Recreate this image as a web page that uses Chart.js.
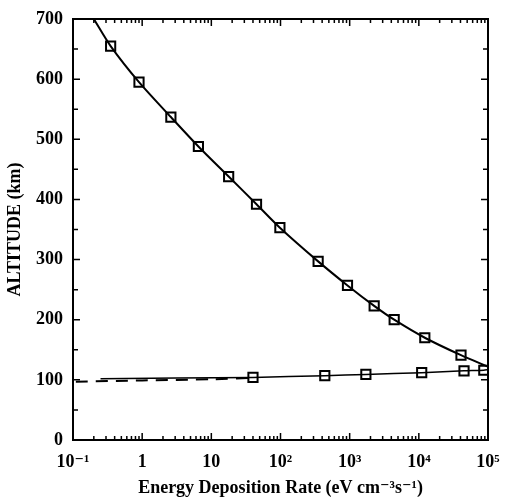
<!DOCTYPE html>
<html>
<head>
<meta charset="utf-8">
<script src="https://cdn.jsdelivr.net/npm/chart.js@4.4.1/dist/chart.umd.min.js"></script>
<style>
  html, body { margin: 0; padding: 0; background: #fff; }
  #wrap { width: 505px; height: 499px; }
</style>
</head>
<body>
<div id="wrap"><canvas id="chart" width="505" height="499"></canvas></div>
<script>
// Upper curve: marked points (rate in eV cm^-3 s^-1, altitude in km)
const upperRate = [0.2, 0.35, 0.9, 2.6, 6.5, 17.8, 45, 98, 350, 930, 2260, 4400, 12200, 40700, 100000];
const upperAlt  = [700, 655, 595, 537, 488, 438, 392, 353, 297, 257, 223, 200, 170, 141, 122];

// Lower curve (solid) with its markers
const lowerRate = [0.25, 40, 437, 1715, 11000, 45000, 87000, 100000];
const lowerAlt  = [102, 104, 107, 109, 112, 115, 116, 117];

// Dashed curve at low rates
const dashRate = [0.11, 1, 10, 35];
const dashAlt  = [97, 99, 101, 103];

// Axis ticks
const xTickValues = [0.1, 1, 10, 100, 1000, 10000, 100000];
const xTickLabels = ['10\u207B\u00B9', '1', '10', '10\u00B2', '10\u00B3', '10\u2074', '10\u2075'];
const yTickValues = [0, 100, 200, 300, 400, 500, 600, 700];

const FONT = '"Liberation Serif", "DejaVu Serif", serif';

function toPoints(xs, ys) {
    return xs.map((x, i) => ({ x: x, y: ys[i] }));
}

// marker only on the inner points, not on the line ends
function markerRadii(n, first, last) {
    return Array.from({ length: n }, (_, i) => (i < first || i > n - 1 - last) ? 0 : 6.5);
}

// Frame and inward tick marks on all four sides
const frameTicks = {
    id: 'frameTicks',
    afterDraw(chart) {
        const { ctx, chartArea: a, scales } = chart;
        ctx.save();
        ctx.strokeStyle = '#000';
        ctx.lineWidth = 2;
        ctx.strokeRect(a.left, a.top, a.right - a.left, a.bottom - a.top);

        ctx.lineWidth = 1.5;
        ctx.beginPath();
        // x: decades and 2..9 minors
        for (let e = -1; e <= 5; e++) {
            for (let m = 1; m <= 9; m++) {
                const v = m * Math.pow(10, e);
                if (v > 100000) break;
                const px = scales.x.getPixelForValue(v);
                const len = m === 1 ? 7 : 4;
                ctx.moveTo(px, a.bottom); ctx.lineTo(px, a.bottom - len);
                ctx.moveTo(px, a.top); ctx.lineTo(px, a.top + len);
            }
        }
        // y: every 50 km
        for (let v = 0; v <= 700; v += 50) {
            const py = scales.y.getPixelForValue(v);
            const len = v % 100 === 0 ? 7 : 5;
            ctx.moveTo(a.left, py); ctx.lineTo(a.left + len, py);
            ctx.moveTo(a.right, py); ctx.lineTo(a.right - len, py);
        }
        ctx.stroke();
        ctx.restore();
    }
};

new Chart(document.getElementById('chart').getContext('2d'), {
    type: 'line',
    data: {
        datasets: [
            {
                data: toPoints(upperRate, upperAlt),
                borderColor: '#000',
                borderWidth: 2,
                tension: 0.3,
                pointStyle: 'rect',
                pointRadius: markerRadii(upperRate.length, 1, 1),
                pointBorderColor: '#000',
                pointBorderWidth: 2,
                pointBackgroundColor: 'rgba(0,0,0,0)'
            },
            {
                data: toPoints(lowerRate, lowerAlt),
                borderColor: '#000',
                borderWidth: 1.5,
                tension: 0.2,
                pointStyle: 'rect',
                pointRadius: markerRadii(lowerRate.length, 1, 1),
                pointBorderColor: '#000',
                pointBorderWidth: 2,
                pointBackgroundColor: 'rgba(0,0,0,0)'
            },
            {
                data: toPoints(dashRate, dashAlt),
                borderColor: '#000',
                borderWidth: 2,
                borderDash: [12, 8],
                tension: 0.2,
                pointRadius: 0
            }
        ]
    },
    options: {
        responsive: false,
        animation: false,
        layout: { padding: { top: 19, right: 17, left: 0, bottom: 0 } },
        plugins: {
            legend: { display: false },
            tooltip: { enabled: false }
        },
        scales: {
            x: {
                type: 'logarithmic',
                min: 0.1,
                max: 100000,
                afterBuildTicks: scale => { scale.ticks = xTickValues.map(v => ({ value: v })); },
                afterFit: scale => {
                    scale.height = 59;
                    scale.paddingLeft = 0;
                    scale.paddingRight = 0;
                },
                grid: { display: false, drawTicks: false },
                border: { display: false },
                ticks: {
                    autoSkip: false,
                    maxRotation: 0,
                    padding: 12,
                    color: '#000',
                    font: { family: FONT, size: 18, weight: 'bold' },
                    callback: (value) => {
                        const i = xTickValues.indexOf(value);
                        return i >= 0 ? xTickLabels[i] : '';
                    }
                },
                title: {
                    display: true,
                    text: 'Energy Deposition Rate (eV cm\u207B\u00B3s\u207B\u00B9)',
                    color: '#000',
                    font: { family: FONT, size: 18, weight: 'bold' },
                    padding: { top: 4, bottom: 0 }
                }
            },
            y: {
                min: 0,
                max: 700,
                afterBuildTicks: scale => { scale.ticks = yTickValues.map(v => ({ value: v })); },
                afterFit: scale => {
                    scale.width = 73;
                    scale.paddingTop = 0;
                    scale.paddingBottom = 0;
                },
                grid: { display: false, drawTicks: false },
                border: { display: false },
                ticks: {
                    padding: 10,
                    color: '#000',
                    font: { family: FONT, size: 18, weight: 'bold' }
                },
                title: {
                    display: true,
                    text: 'ALTITUDE (km)',
                    color: '#000',
                    font: { family: FONT, size: 18, weight: 'bold' },
                    padding: { top: 5, bottom: 4 }
                }
            }
        }
    },
    plugins: [frameTicks]
});
</script>
</body>
</html>
